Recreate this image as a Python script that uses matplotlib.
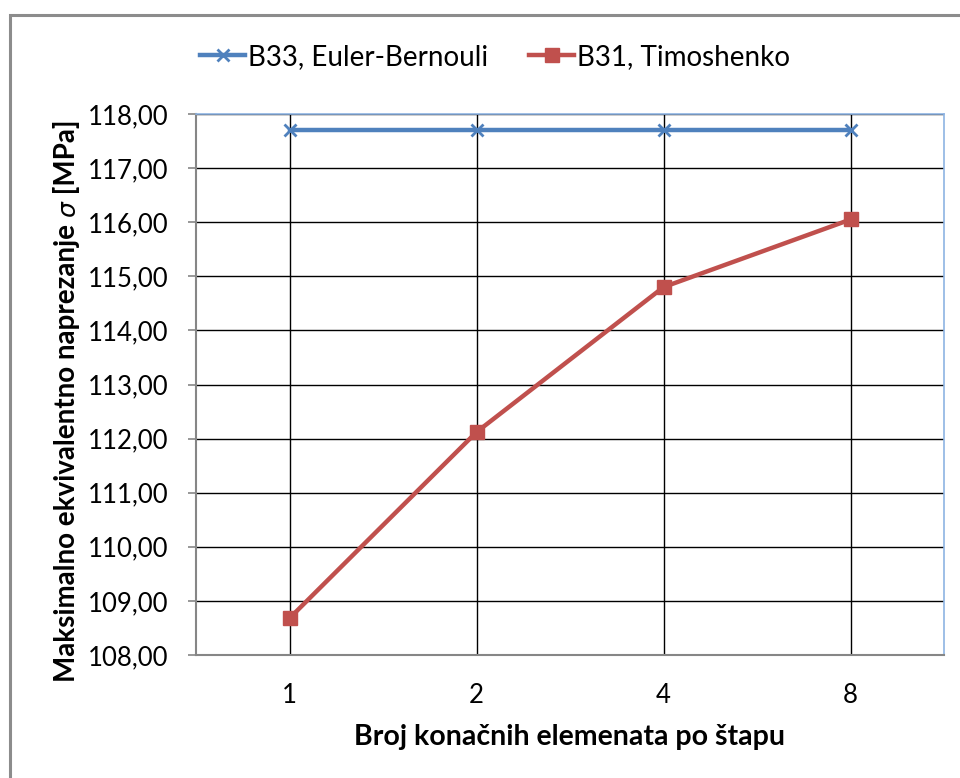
import matplotlib
matplotlib.use("Agg")
import matplotlib.pyplot as plt
from matplotlib.lines import Line2D
from matplotlib.patches import Rectangle

# Data
categories = ["1", "2", "4", "8"]
euler_bernoulli_b33 = [117.70, 117.70, 117.70, 117.70]
timoshenko_b31 = [108.68, 112.12, 114.80, 116.05]
y_ticks = [108, 109, 110, 111, 112, 113, 114, 115, 116, 117, 118]
y_tick_labels = [f"{v:.2f}".replace(".", ",") for v in y_ticks]

plt.rcParams["font.family"] = ["Lato", "DejaVu Sans"]

W, H = 960, 778
fig = plt.figure(figsize=(W / 100, H / 100), dpi=100)

# plot area in pixel coordinates
left, right, top, bottom = 196, 944, 114, 655
ax = fig.add_axes([left / W, 1 - bottom / H, (right - left) / W, (bottom - top) / H])

# chart frame (outer border, cut by the image edge)
fig.add_artist(Rectangle((10 / W, -0.1), 1.2, 1 - 15 / H + 0.1,
                         transform=fig.transFigure, fill=False,
                         edgecolor="#8c8c8c", linewidth=2.2))

x = list(range(len(categories)))
blue = "#4F81BD"
red = "#C0504D"

ax.plot(x, euler_bernoulli_b33, color=blue, linewidth=3.2, marker="x",
        markersize=9, markeredgewidth=2, zorder=4,
        label="B33, Euler-Bernouli")
ax.plot(x, timoshenko_b31, color=red, linewidth=3.2, marker="s",
        markersize=10, zorder=5, label="B31, Timoshenko")

ax.set_xlim(-0.5, len(categories) - 0.5)
ax.set_ylim(108, 118)
ax.set_xticks(x)
ax.set_xticklabels(categories)
ax.set_yticks(y_ticks)
ax.set_yticklabels(y_tick_labels)

ax.grid(True, color="black", linewidth=1.0, zorder=1)
ax.set_axisbelow(True)

for side in ("top", "right"):
    ax.spines[side].set_color("#8EB4E3")
    ax.spines[side].set_linewidth(1.2)
for side in ("left", "bottom"):
    ax.spines[side].set_color("#868686")
    ax.spines[side].set_linewidth(1.5)

ax.tick_params(axis="y", length=5.8, width=1.2, color="#868686",
               labelsize=18.5, pad=14)
ax.tick_params(axis="x", length=0, labelsize=18.5, pad=20)

ax.set_xlabel("Broj konačnih elemenata po štapu", fontsize=20.5,
              fontweight="bold", labelpad=12)

# Y axis title built from three rotated pieces so that sigma can be italic
label_parts = [
    ("Maksimalno ekvivalentno naprezanje ", dict(fontweight="bold")),
    ("σ", dict(fontstyle="italic", family=["DejaVu Sans"], fontsize=18)),
    (" [MPa]", dict(fontweight="bold")),
]
baseline_x = 75 / W
texts = []
for s, kw in label_parts:
    props = dict(fontsize=20)
    props.update(kw)
    t = fig.text(baseline_x, 0.5, s, rotation=90, rotation_mode="anchor",
                 ha="left", va="baseline", transform=fig.transFigure, **props)
    texts.append(t)

fig.canvas.draw()
renderer = fig.canvas.get_renderer()
lengths = [t.get_window_extent(renderer).height for t in texts]
total = sum(lengths)
center_y = H - 401
y0 = center_y - total / 2
for t, length in zip(texts, lengths):
    t.set_position((baseline_x, y0 / H))
    y0 += length

handles = [
    Line2D([], [], color=blue, linewidth=3.2, marker="x", markersize=9,
           markeredgewidth=2),
    Line2D([], [], color=red, linewidth=3.2, marker="s", markersize=10),
]
fig.legend(handles, ["B33, Euler-Bernouli", "B31, Timoshenko"],
           loc="center", bbox_to_anchor=(495 / W, 1 - 57 / H), ncol=2,
           frameon=False, fontsize=20, handlelength=1.6, handletextpad=0.1,
           columnspacing=1.5)

fig.savefig("out.png", dpi=100, facecolor="white")
